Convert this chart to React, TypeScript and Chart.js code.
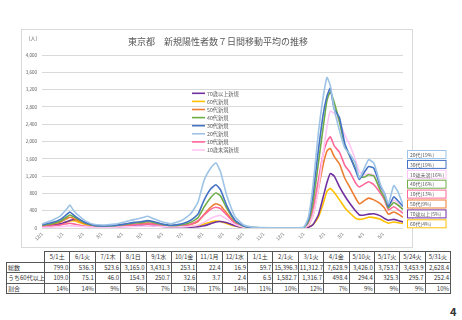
import React, { useEffect, useRef } from "react";
import { Chart, registerables } from "chart.js";

Chart.register(...registerables);

const FONT = '"Noto Sans CJK JP", "Noto Sans", sans-serif';
const TITLE = "東京都　新規陽性者数７日間移動平均の推移";
const UNIT = "（人）";

// x: days since 2020-12-01
const DAYS = [0, 14, 28, 38, 42, 48, 56, 66, 80, 95, 110, 125, 140, 150, 160, 168, 180, 195, 212, 225, 236, 245, 255, 263, 270, 280, 292, 305, 320, 350, 380, 396, 403, 410, 418, 425, 431, 436, 442, 450, 458, 466, 474, 480, 488, 494, 502, 512, 518, 524, 532, 539, 546];

const AGE20 = [95, 170, 280, 450, 530, 400, 280, 160, 80, 70, 90, 140, 200, 230, 270, 220, 150, 100, 180, 330, 600, 1100, 1380, 1510, 1300, 720, 260, 70, 15, 5, 6, 20, 250, 1000, 2200, 3000, 3480, 3300, 2750, 2250, 1850, 1700, 1500, 1150, 1400, 1580, 1500, 1000, 800, 560, 980, 820, 530];
const AGE30 = [75, 120, 200, 320, 370, 300, 210, 120, 60, 50, 60, 90, 130, 145, 170, 150, 100, 65, 100, 180, 320, 640, 900, 1000, 880, 500, 180, 45, 10, 4, 5, 12, 200, 800, 1800, 2600, 3050, 3230, 2750, 2550, 1950, 1650, 1350, 1120, 1300, 1420, 1380, 960, 800, 500, 720, 620, 500];
const AGE40 = [65, 100, 160, 260, 300, 260, 190, 110, 55, 45, 55, 80, 115, 125, 150, 130, 90, 55, 75, 130, 240, 480, 700, 810, 740, 440, 160, 40, 8, 3, 4, 8, 150, 600, 1500, 2300, 2950, 3150, 2900, 2450, 1900, 1650, 1380, 1180, 1180, 1230, 1200, 860, 700, 460, 590, 520, 430];
const AGE50 = [55, 85, 140, 220, 250, 220, 160, 95, 45, 35, 40, 60, 85, 95, 115, 100, 70, 40, 45, 80, 150, 310, 480, 560, 520, 330, 120, 30, 6, 2, 3, 6, 60, 300, 900, 1450, 1780, 1840, 1650, 1480, 1150, 930, 700, 560, 640, 690, 650, 560, 460, 320, 370, 320, 250];
const AGE10 = [30, 45, 70, 100, 110, 95, 70, 40, 25, 30, 35, 50, 75, 80, 100, 90, 65, 40, 50, 90, 170, 300, 430, 480, 450, 290, 110, 25, 5, 1, 2, 5, 100, 450, 1100, 1700, 2000, 2110, 1900, 1750, 1450, 1280, 1050, 950, 1020, 1070, 1000, 800, 650, 420, 490, 420, 340];
const UNDER10 = [12, 18, 30, 45, 50, 48, 40, 25, 15, 20, 20, 25, 35, 40, 50, 45, 35, 25, 25, 40, 70, 130, 220, 270, 290, 200, 80, 20, 4, 1, 1, 3, 60, 300, 900, 1700, 2350, 2700, 2650, 2450, 2150, 1900, 1580, 1300, 1230, 1260, 1220, 900, 760, 540, 640, 560, 430];
const AGE60 = [35, 55, 90, 140, 160, 170, 130, 80, 40, 30, 30, 40, 55, 65, 70, 60, 45, 25, 25, 35, 55, 90, 140, 160, 150, 100, 45, 12, 3, 1, 1, 3, 20, 80, 250, 550, 850, 910, 820, 650, 470, 340, 230, 200, 220, 250, 240, 200, 150, 110, 140, 120, 105];
const AGE70 = [40, 60, 95, 150, 175, 195, 180, 120, 60, 35, 30, 35, 50, 60, 60, 55, 40, 20, 15, 20, 30, 50, 100, 140, 150, 120, 55, 15, 4, 1, 1, 3, 20, 80, 300, 700, 1050, 1260, 1200, 950, 740, 560, 400, 300, 300, 320, 330, 280, 220, 180, 200, 170, 140];

const TICK_DAYS = [0, 31, 62, 90, 121, 151, 182, 212, 243, 274, 304, 335, 365, 396, 427, 455, 486, 516];
const TICK_LABELS = ["12/1", "1/1", "2/1", "3/1", "4/1", "5/1", "6/1", "7/1", "8/1", "9/1", "10/1", "11/1", "12/1", "1/1", "2/1", "3/1", "4/1", "5/1"];

const LEGEND_NAMES = ["70歳以上新規", "60代新規", "50代新規", "40代新規", "30代新規", "20代新規", "10代新規", "10歳未満新規"];
const BOX_NAMES = ["20代(19%)", "30代(19%)", "10歳未満(16%)", "40代(16%)", "10代(13%)", "50代(9%)", "70歳以上(5%)", "60代(4%)"];

const TABLE_DATES = ["5/1土", "6/1火", "7/1木", "8/1日", "9/1水", "10/1金", "11/1月", "12/1水", "1/1土", "2/1火", "3/1火", "4/1金", "5/10火", "5/17火", "5/24火", "5/31火"];
const TOTALS = [799.0, 536.3, 523.6, 3165.0, 3431.3, 253.1, 22.4, 16.9, 59.7, 15396.3, 11312.7, 7628.9, 3426.0, 3753.7, 3453.9, 2628.4];
const OVER60 = [109.0, 75.1, 46.0, 154.3, 250.7, 32.6, 3.7, 2.4, 6.5, 1582.7, 1316.7, 498.4, 294.4, 325.3, 295.7, 252.4];
const RATIOS = [14, 14, 9, 5, 7, 13, 17, 14, 11, 10, 12, 7, 9, 9, 9, 10];
const ROW_LABELS = ["総数", "うち60代以上", "割合"];

const COLORS: Record<string, string> = {
  "20": "#9DC3E6",
  "30": "#4472C4",
  "u10": "#FFC6F5",
  "40": "#70AD47",
  "10": "#FF6699",
  "50": "#ED7D31",
  "70": "#7030A0",
  "60": "#FFC000",
};

const LEGEND_KEYS = ["70", "60", "50", "40", "30", "20", "10", "u10"];
const BOX_KEYS = ["20", "30", "u10", "40", "10", "50", "70", "60"];

const SERIES: { key: string; values: number[] }[] = [
  { key: "20", values: AGE20 },
  { key: "30", values: AGE30 },
  { key: "40", values: AGE40 },
  { key: "u10", values: UNDER10 },
  { key: "10", values: AGE10 },
  { key: "50", values: AGE50 },
  { key: "70", values: AGE70 },
  { key: "60", values: AGE60 },
];

const fmt1 = (v: number) =>
  v.toLocaleString("en-US", { minimumFractionDigits: 1, maximumFractionDigits: 1 });

const decor = {
  id: "decor",
  beforeDraw(chart: any) {
    const ctx = chart.ctx;
    ctx.save();
    ctx.fillStyle = "#ffffff";
    ctx.fillRect(0, 0, chart.width, chart.height);
    ctx.strokeStyle = "#D9D9D9";
    ctx.lineWidth = 1;
    ctx.strokeRect(21.5, 29.5, 391, 218);
    ctx.restore();
  },
  afterDraw(chart: any) {
    const ctx = chart.ctx;
    ctx.save();
    ctx.fillStyle = "#595959";
    ctx.textBaseline = "middle";
    ctx.textAlign = "center";
    ctx.font = `9px ${FONT}`;
    ctx.fillText(TITLE, 218, 42);
    ctx.font = `5px ${FONT}`;
    ctx.fillText(UNIT, 33, 38);

    // inner legend
    ctx.textAlign = "left";
    ctx.font = `5.2px ${FONT}`;
    LEGEND_NAMES.forEach((name, i) => {
      const y = 93.3 + i * 8.1;
      ctx.strokeStyle = COLORS[LEGEND_KEYS[i]];
      ctx.lineWidth = 1.6;
      ctx.beginPath();
      ctx.moveTo(192, y);
      ctx.lineTo(205, y);
      ctx.stroke();
      ctx.fillStyle = "#595959";
      ctx.fillText(name, 207, y + 0.3);
    });

    // right label boxes
    ctx.font = `5px ${FONT}`;
    BOX_NAMES.forEach((name, i) => {
      const top = 150.5 + i * 9.9;
      ctx.fillStyle = "#ffffff";
      ctx.fillRect(407.5, top, 38.5, 8);
      ctx.strokeStyle = COLORS[BOX_KEYS[i]];
      ctx.lineWidth = 1;
      ctx.strokeRect(407.5, top, 38.5, 8);
      ctx.fillStyle = "#595959";
      ctx.fillText(name, 410, top + 4.3);
    });
    ctx.restore();
  },
};

function ChartCanvas() {
  const ref = useRef<HTMLCanvasElement | null>(null);
  useEffect(() => {
    if (!ref.current) return;
    const chart = new Chart(ref.current, {
      type: "line",
      data: {
        datasets: SERIES.map((s) => ({
          label: s.key,
          data: DAYS.map((d, i) => ({ x: d, y: s.values[i] })),
          borderColor: COLORS[s.key],
          backgroundColor: COLORS[s.key],
          borderWidth: 1.6,
          pointRadius: 0,
          tension: 0.15,
          fill: false,
        })),
      },
      options: {
        responsive: false,
        animation: false,
        devicePixelRatio: 1,
        layout: { padding: { top: 55, right: 59, bottom: 0, left: 0 } },
        plugins: {
          legend: { display: false },
          tooltip: { enabled: false },
          title: { display: false },
        },
        scales: {
          x: {
            type: "linear",
            min: 0,
            max: 546,
            grid: { display: false, drawTicks: false },
            border: { display: false },
            afterBuildTicks: (scale: any) => {
              scale.ticks = TICK_DAYS.map((v) => ({ value: v }));
            },
            afterFit: (scale: any) => {
              scale.height = 22;
            },
            ticks: {
              autoSkip: false,
              minRotation: 45,
              maxRotation: 45,
              padding: 3,
              color: "#595959",
              font: { family: FONT, size: 4.5 },
              callback: (v: any) => {
                const i = TICK_DAYS.indexOf(Number(v));
                return i >= 0 ? TICK_LABELS[i] : "";
              },
            },
          },
          y: {
            min: 0,
            max: 4000,
            grid: { color: "#D9D9D9", lineWidth: 1, drawTicks: false },
            border: { display: false },
            afterFit: (scale: any) => {
              scale.width = 42;
            },
            ticks: {
              stepSize: 400,
              padding: 5,
              color: "#595959",
              font: { family: FONT, size: 4.5 },
              callback: (v: any) => Number(v).toLocaleString("en-US"),
            },
          },
        },
      },
      plugins: [decor],
    });
    return () => chart.destroy();
  }, []);
  return (
    <canvas
      ref={ref}
      width={462}
      height={250}
      style={{ position: "absolute", left: 0, top: 0, width: 462, height: 250 }}
    />
  );
}

const cellBase: React.CSSProperties = {
  border: "1px solid #555",
  padding: "0 1px",
  height: 9.6,
  lineHeight: "9px",
  fontSize: 6,
  whiteSpace: "nowrap",
  overflow: "hidden",
};

function DataTable() {
  const rows = [TOTALS.map(fmt1), OVER60.map(fmt1), RATIOS.map((r) => `${r}%`)];
  return (
    <table
      style={{
        position: "absolute",
        left: 6,
        top: 251,
        width: 444,
        borderCollapse: "collapse",
        tableLayout: "fixed",
        fontFamily: FONT,
        color: "#333",
      }}
    >
      <colgroup>
        <col style={{ width: 38 }} />
        {TABLE_DATES.map((d) => (
          <col key={d} style={{ width: 25.375 }} />
        ))}
      </colgroup>
      <tbody>
        <tr>
          <td style={{ ...cellBase, border: "none" }}></td>
          {TABLE_DATES.map((d) => (
            <td key={d} style={{ ...cellBase, textAlign: "center" }}>
              {d}
            </td>
          ))}
        </tr>
        {rows.map((r, ri) => (
          <tr key={ri}>
            <td style={{ ...cellBase, textAlign: "left" }}>{ROW_LABELS[ri]}</td>
            {r.map((v, ci) => (
              <td key={ci} style={{ ...cellBase, textAlign: "right" }}>
                {v}
              </td>
            ))}
          </tr>
        ))}
      </tbody>
    </table>
  );
}

export default function App() {
  return (
    <div
      style={{
        position: "absolute",
        left: 0,
        top: 0,
        width: 462,
        height: 320,
        background: "#fff",
        overflow: "hidden",
      }}
    >
      <ChartCanvas />
      <DataTable />
      <div
        style={{
          position: "absolute",
          left: 450,
          top: 304,
          fontFamily: FONT,
          fontWeight: 700,
          fontSize: 11,
          color: "#333",
          lineHeight: "14px",
        }}
      >
        4
      </div>
    </div>
  );
}
